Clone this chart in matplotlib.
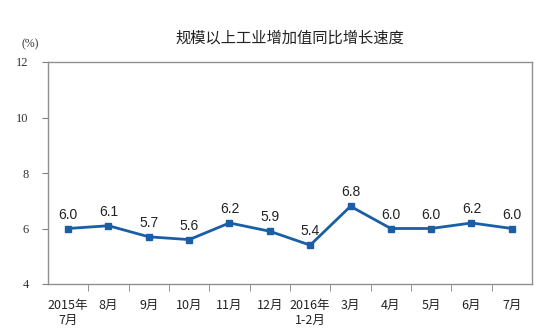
import numpy as np
import matplotlib
matplotlib.use('Agg')
import matplotlib.pyplot as plt

months = ['2015年\n7月', '8月', '9月', '10月', '11月', '12月', '2016年\n1-2月',
          '3月', '4月', '5月', '6月', '7月']
growth = [6.0, 6.1, 5.7, 5.6, 6.2, 5.9, 5.4, 6.8, 6.0, 6.0, 6.2, 6.0]
y_ticks = [4, 6, 8, 10, 12]

cjk = ['Noto Sans CJK SC', 'DejaVu Sans']
line_color = '#1a5fa6'

fig = plt.figure(figsize=(5.4, 3.34), dpi=100)
ax = fig.add_axes([48 / 540, 1 - 284 / 334, 484 / 540, 222 / 334])

x = np.arange(len(months))
ax.plot(x, growth, color=line_color, lw=2, marker='s', ms=5,
        mfc=line_color, mec=line_color)

for xi, v in zip(x, growth):
    ax.annotate(f'{v:.1f}', (xi, v), xytext=(0, 5), textcoords='offset points',
                ha='center', va='bottom', fontsize=10, family='Liberation Sans',
                color='#222222')

ax.set_xlim(-0.5, len(months) - 0.5)
ax.set_ylim(4, 12)
ax.set_yticks(y_ticks)
ax.set_yticklabels([str(t) for t in y_ticks], family='Liberation Serif',
                   fontsize=9, color='#333333')

ax.set_xticks(x)
ax.set_xticklabels(months, family=cjk, fontsize=9, color='#222222',
                   linespacing=1.2)
ax.set_xticks(np.arange(0.5, len(months) - 0.5, 1), minor=True)
ax.tick_params(axis='x', which='major', length=0, pad=11)
ax.tick_params(axis='x', which='minor', length=5, color='#808080')
ax.tick_params(axis='y', length=4, color='#808080', pad=10)

for s in ax.spines.values():
    s.set_color('#909090')
    s.set_linewidth(1)

fig.text(290 / 540, 1 - 38 / 334, '规模以上工业增加值同比增长速度', family=cjk,
         fontsize=11, ha='center', va='center', color='#222222')
fig.text(30 / 540, 1 - 44 / 334, '(%)', family='Liberation Serif', fontsize=8.5,
         ha='center', va='center', color='#333333')

fig.savefig('out.png', dpi=100)
